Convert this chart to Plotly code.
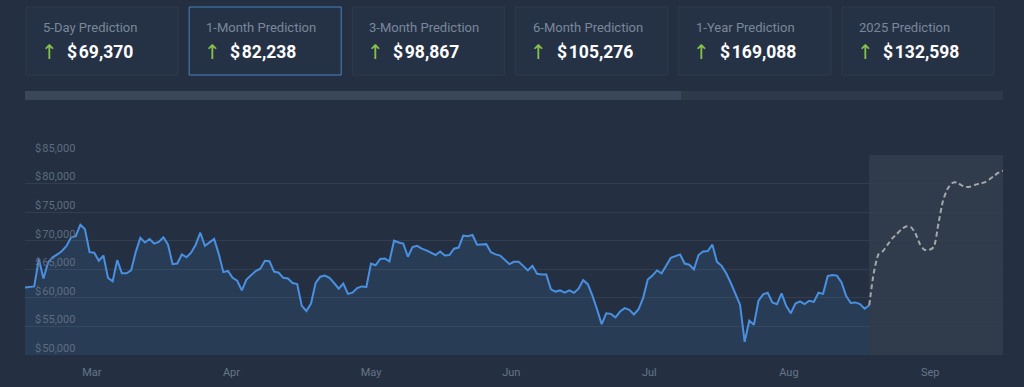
import pandas as pd
import plotly.graph_objects as go

# ---------------- data ----------------
hist_start = "2024-03-01"
hist_values = [
    61.8, 61.9, 62.0, 66.8, 63.4, 66.2, 67.1, 67.6, 68.2, 69.1,
    70.6, 70.8, 72.8, 72.0, 68.0, 67.9, 66.5, 67.4, 63.5, 62.9,
    66.6, 64.3, 64.3, 64.8, 68.0, 70.5, 69.7, 70.3, 69.5, 69.8,
    70.6, 69.3, 65.9, 66.0, 67.6, 67.1, 67.9, 69.3, 71.4, 69.1,
    69.7, 70.3, 67.7, 64.5, 64.7, 63.5, 63.0, 61.3, 63.2, 64.0,
    64.7, 65.1, 66.5, 66.4, 64.6, 64.4, 63.5, 63.4, 62.6, 62.4,
    58.6, 57.7, 59.0, 62.6, 63.7, 63.9, 63.5, 62.6, 61.6, 62.5,
    60.7, 60.9, 61.7, 62.0, 61.9, 66.0, 65.7, 66.8, 66.9, 66.4,
    70.0, 69.7, 69.5, 67.2, 68.9, 69.1, 68.6, 68.3, 67.9, 67.5,
    68.1, 67.4, 67.5, 68.6, 68.8, 70.9, 70.8, 71.0, 69.3, 69.3,
    69.4, 68.0, 67.6, 67.4, 66.6, 65.9, 66.3, 66.3, 65.6, 64.8,
    65.6, 64.2, 64.1, 64.1, 61.5, 61.1, 61.3, 60.9, 61.3, 60.9,
    61.6, 63.1, 62.4, 60.4, 58.0, 55.4, 57.3, 57.2, 56.6, 57.6,
    58.2, 57.9, 57.1, 58.0, 60.0, 63.2, 63.9, 64.8, 64.3, 65.7,
    67.0, 67.3, 67.6, 66.0, 65.8, 65.0, 67.5, 68.1, 68.2, 69.3,
    66.3, 65.6, 64.3, 62.6, 60.7, 58.8, 52.3, 56.0, 55.3, 59.5,
    60.6, 60.9, 59.2, 58.9, 60.8, 58.6, 57.3, 59.0, 59.4, 58.9,
    59.5, 59.3, 60.9, 60.7, 63.8, 64.0, 63.9, 62.7, 60.3, 59.1,
    59.2, 58.9, 58.1, 58.7,
]
pred_values = [
    58.7, 64.4, 67.6, 68.2, 69.3, 70.4, 71.2, 72.0, 72.5, 72.4,
    71.3, 69.4, 68.4, 68.4, 68.9, 73.0, 77.0, 79.1, 80.1, 80.2,
    79.7, 79.4, 79.5, 79.8, 80.0, 80.2, 80.7, 81.3, 81.9, 82.238,
]
card_titles = ["5-Day Prediction", "1-Month Prediction", "3-Month Prediction",
               "6-Month Prediction", "1-Year Prediction", "2025 Prediction"]
card_values = [69370, 82238, 98867, 105276, 169088, 132598]
y_ticks = [50000, 55000, 60000, 65000, 70000, 75000, 80000, 85000]
x_tick_dates = ["2024-03-15 12:00", "2024-04-14 18:00", "2024-05-15 00:00",
                "2024-06-14 10:00", "2024-07-14 08:00", "2024-08-13 14:00",
                "2024-09-13 05:00"]

hist_dates = pd.date_range(hist_start, periods=len(hist_values), freq="D")
pred_dates = pd.date_range(hist_dates[-1], periods=len(pred_values), freq="D")
hist_y = [v * 1000 for v in hist_values]
pred_y = [v * 1000 for v in pred_values]

# ---------------- style ----------------
W, H = 1024, 387
ML, MR, MT, MB = 25, 21, 155, 32
PW, PH = W - ML - MR, H - MT - MB
BG = "#243041"
FONT = "Roboto"


def px(xp):
    return (xp - ML) / PW


def py(yp):
    return (H - MB - yp) / PH


fig = go.Figure()

fig.add_trace(go.Scatter(
    x=hist_dates, y=hist_y, mode="lines",
    line=dict(color="#4a90e2", width=2),
    fill="tozeroy", fillcolor="rgba(74,144,226,0.13)",
    hoverinfo="skip", showlegend=False,
))
fig.add_trace(go.Scatter(
    x=pred_dates, y=pred_y, mode="lines",
    line=dict(color="#a4a7ab", width=2, dash="5px,3px", shape="spline", smoothing=0.6),
    hoverinfo="skip", showlegend=False,
))

shapes = []
# prediction band
shapes.append(dict(type="rect", xref="x", yref="paper",
                   x0=pred_dates[0], x1=pred_dates[-1], y0=0, y1=1,
                   fillcolor="rgba(255,255,255,0.06)", line=dict(width=0),
                   layer="below"))
# scrollbar
shapes.append(dict(type="rect", xref="paper", yref="paper",
                   x0=px(25), x1=px(1003), y0=py(100), y1=py(91),
                   fillcolor="#2e394a", line=dict(width=0)))
shapes.append(dict(type="rect", xref="paper", yref="paper",
                   x0=px(25), x1=px(681), y0=py(100), y1=py(91),
                   fillcolor="#3a4659", line=dict(width=0)))

annotations = []
card_w, card_gap, card_x0 = 152, 163.2, 26
for i, (t, v) in enumerate(zip(card_titles, card_values)):
    x0 = card_x0 + i * card_gap
    x1 = x0 + card_w
    active = (i == 1)
    shapes.append(dict(type="rect", xref="paper", yref="paper",
                       x0=px(x0), x1=px(x1), y0=py(75), y1=py(7),
                       fillcolor="#253245",
                       line=dict(color="#4a82c3" if active else "#2f3b4d", width=1)))
    annotations.append(dict(xref="paper", yref="paper", x=px(x0 + 15), y=py(27),
                            text=t, showarrow=False, xanchor="left", yanchor="middle",
                            font=dict(family=FONT, size=13, color="#7a879b")))
    annotations.append(dict(xref="paper", yref="paper", x=px(x0 + 23), y=py(52),
                            text="↑", showarrow=False, xanchor="center", yanchor="middle",
                            font=dict(family="DejaVu Sans", size=20, color="#8bc34a")))
    annotations.append(dict(xref="paper", yref="paper", x=px(x0 + 39), y=py(52),
                            text="<b>$\u200a" + f"{v:,}" + "</b>", showarrow=False,
                            xanchor="left", yanchor="middle",
                            font=dict(family=FONT, size=17.5, color="#ffffff")))

fig.update_layout(
    width=W, height=H,
    margin=dict(l=ML, r=MR, t=MT, b=MB, autoexpand=False),
    paper_bgcolor=BG, plot_bgcolor=BG,
    shapes=shapes, annotations=annotations,
    font=dict(family=FONT),
    xaxis=dict(
        type="date", automargin=False,
        range=[hist_dates[0], pred_dates[-1]],
        tickvals=pd.to_datetime(x_tick_dates), tickformat="%b",
        tickfont=dict(family=FONT, size=11, color="#66758a"),
        ticklabelstandoff=9,
        showgrid=False, zeroline=False, showline=False, ticks="",
        fixedrange=True,
    ),
    yaxis=dict(
        automargin=False,
        range=[50000, 85000],
        tickvals=y_ticks, ticktext=[f"$\u200a{v:,}" for v in y_ticks],
        ticklabelposition="inside", ticklabelstandoff=7, ticklabelshift=-7,
        ticklabeloverflow="allow",
        tickfont=dict(family=FONT, size=11, color="#5e6c80"),
        gridcolor="#323e4f", gridwidth=1, zeroline=False, showline=False, ticks="",
        fixedrange=True,
    ),
)

fig.write_html(
    "out.html",
    config={"displayModeBar": False, "staticPlot": True},
    post_script="document.body.style.margin='0';document.body.style.background='#243041';document.body.style.overflow='hidden';",
)
